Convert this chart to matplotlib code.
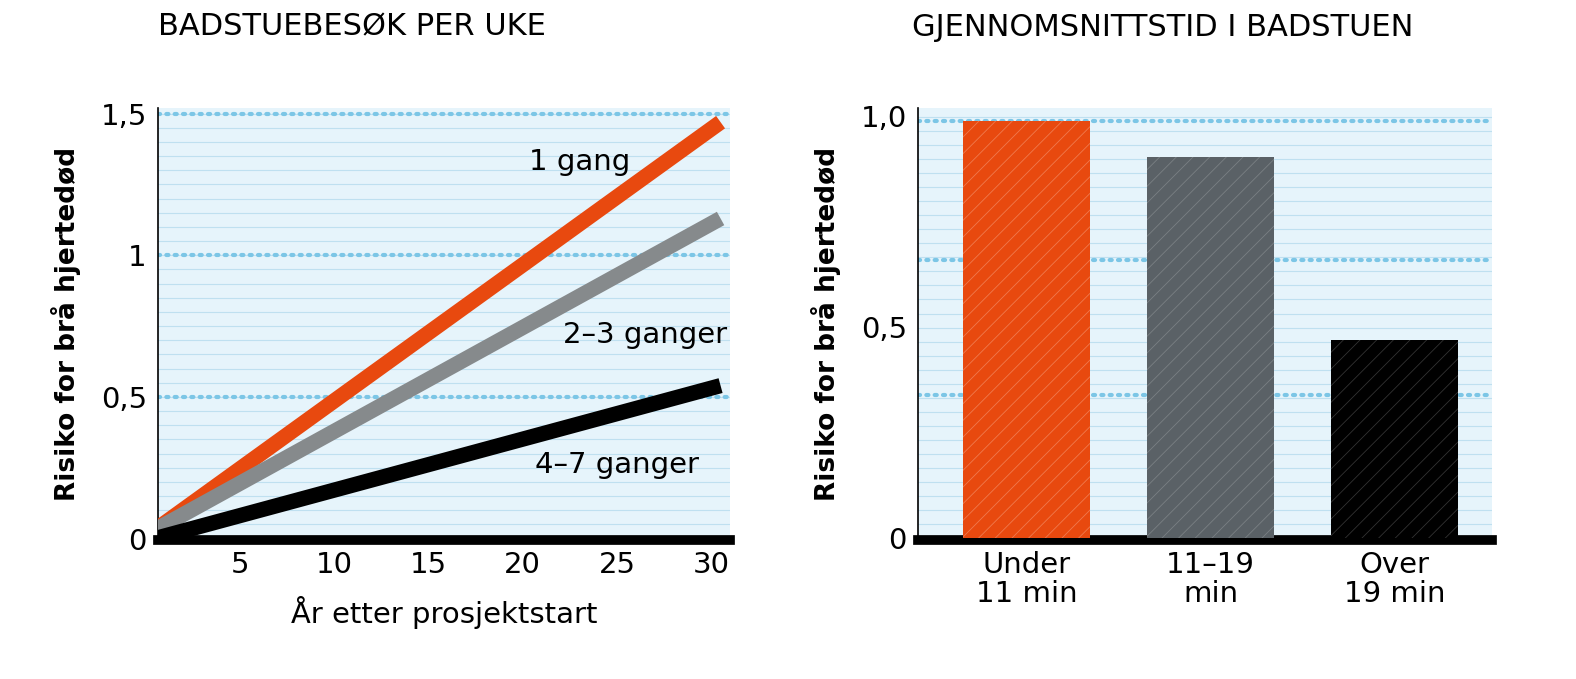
import matplotlib
matplotlib.use("Agg")
import matplotlib.pyplot as plt
import numpy as np

plt.rcParams['font.family'] = ['DejaVu Sans']
plt.rcParams['hatch.linewidth'] = 0.6

# Left panel data
years = [0.5, 30.5]
line_labels = ["1 gang", "2–3 ganger", "4–7 ganger"]
line_values = [[0.03, 1.47], [0.03, 1.13], [0.0, 0.54]]
line_colors = ["#e8490f", "#868a8c", "#000000"]
xticks_left = [5, 10, 15, 20, 25, 30]

# Right panel data
bar_labels = ["Under\n11 min", "11–19\nmin", "Over\n19 min"]
bar_values = [0.99, 0.905, 0.47]
bar_colors = ["#e8490f", "#5a6166", "#000000"]
hatch_colors = ["#f07a4e", "#7a8084", "#333333"]

BG = "#e6f4fb"
fig = plt.figure(figsize=(15.76, 6.79), dpi=100)
axL = fig.add_axes([158/1576, 1-540/679, 572/1576, 432/679])
axR = fig.add_axes([918/1576, 1-540/679, 574/1576, 432/679])

FS = 21
# Left
axL.set_facecolor(BG)
axL.set_xlim(0.66, 31.0)
axL.set_ylim(-0.005, 1.52)
for y in np.arange(0.05, 1.52, 0.05):
    axL.axhline(y, color="#bfe0f0", lw=0.8, zorder=0)
for y in [0.5, 1.0, 1.5]:
    axL.axhline(y, color="#7cc6e6", lw=3, ls=(0, (0.5, 1.5)), dash_capstyle="round", zorder=1)
for vals, c in zip(line_values, line_colors):
    axL.plot(years, vals, color=c, lw=11, solid_capstyle="butt", zorder=3)
axL.text(23, 1.33, line_labels[0], fontsize=FS, ha="center", va="center")
axL.text(26.5, 0.72, line_labels[1], fontsize=FS, ha="center", va="center")
axL.text(25, 0.26, line_labels[2], fontsize=FS, ha="center", va="center")
axL.set_xticks(xticks_left)
axL.set_yticks([0, 0.5, 1, 1.5])
axL.set_yticklabels(["0", "0,5", "1", "1,5"])
axL.tick_params(length=0, labelsize=FS, pad=8)
for s in ["top", "right"]:
    axL.spines[s].set_visible(False)
axL.spines["left"].set_linewidth(1.2)
axL.spines["bottom"].set_linewidth(7)
axL.set_xlabel("År etter prosjektstart", fontsize=FS, labelpad=12)
axL.set_ylabel("Risiko for brå hjertedød", fontsize=19, fontweight="bold", labelpad=14)
axL.set_title("BADSTUEBESØK PER UKE", fontsize=22, loc="left", x=0.0, pad=52)

# Right
axR.set_facecolor(BG)
axR.set_xlim(-0.59, 2.53)
axR.set_ylim(-0.004, 1.02)
for y in np.arange(0.0333, 1.02, 0.0333):
    axR.axhline(y, color="#bfe0f0", lw=0.8, zorder=0)
for y in [0.34, 0.66, 0.99]:
    axR.axhline(y, color="#7cc6e6", lw=3, ls=(0, (0.5, 1.5)), dash_capstyle="round", zorder=1)
x = np.arange(len(bar_values))
for xi, v, c, hc in zip(x, bar_values, bar_colors, hatch_colors):
    axR.bar(xi, v, width=0.69, color=c, zorder=3)
    axR.bar(xi, v, width=0.69, color="none", edgecolor=hc, hatch="//", lw=0, zorder=4)
axR.set_xticks(x)
axR.set_xticklabels(bar_labels, fontsize=FS, linespacing=1.05)
axR.set_yticks([0, 0.5, 1.0])
axR.set_yticklabels(["0", "0,5", "1,0"])
axR.tick_params(length=0, labelsize=FS, pad=8)
for s in ["top", "right"]:
    axR.spines[s].set_visible(False)
axR.spines["left"].set_linewidth(1.2)
axR.spines["bottom"].set_linewidth(7)
axR.set_ylabel("Risiko for brå hjertedød", fontsize=19, fontweight="bold", labelpad=14)
axR.set_title("GJENNOMSNITTSTID I BADSTUEN", fontsize=22, loc="left", x=-0.01, pad=52)

fig.savefig("out.png", dpi=100, facecolor="white")
